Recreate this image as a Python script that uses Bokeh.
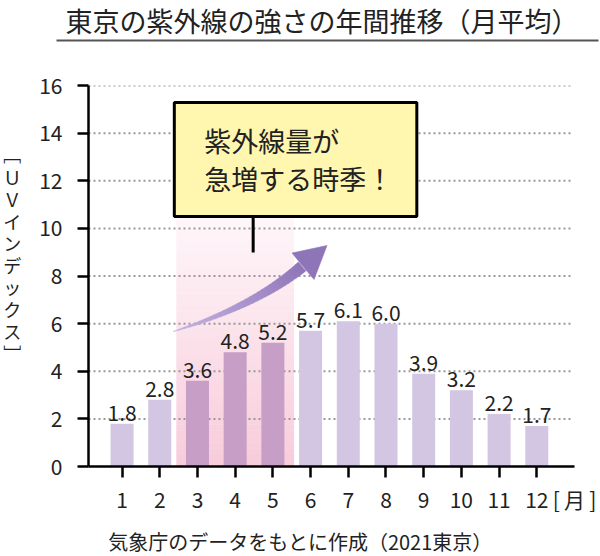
from bokeh.plotting import figure
from bokeh.models import Range1d, FixedTicker, Label
from bokeh.layouts import column, row
from bokeh.core.properties import value
from bokeh.embed import file_html
from bokeh.resources import INLINE

# ---- data ----
months = [1, 2, 3, 4, 5, 6, 7, 8, 9, 10, 11, 12]
uv = [1.8, 2.8, 3.6, 4.8, 5.2, 5.7, 6.1, 6.0, 3.9, 3.2, 2.2, 1.7]
highlight = [3, 4, 5]
month_labels = [str(m) for m in months]
y_ticks = [0, 2, 4, 6, 8, 10, 12, 14, 16]
title_text = "東京の紫外線の強さの年間推移（月平均）"
source_text = "気象庁のデータをもとに作成（2021東京）"
y_label_chars = ["﹇", "Ｕ", "Ｖ", "イ", "ン", "デ", "ッ", "ク", "ス", "﹈"]
unit_text = "[\u2009月\u2009]"
callout_lines = ["紫外線量が", "急増する時季！"]

FONT = "Noto Sans CJK JP"
TXT = "#222222"

# ---- page layout ----
W = 600
TOP_H = 45          # title strip
BOT_H = 36          # source strip
MAIN_H = 556 - TOP_H - BOT_H
FL, FR, FT, FB = 87, 574, 85, 466   # main frame in page pixels
X0, X1 = 0.11, 13.0
Y0, Y1 = 0, 16
UNIT_POS = 13


def dx(px):
    return X0 + (px - FL) * (X1 - X0) / (FR - FL)


def dy(py):
    return Y0 + (FB - py) * (Y1 - Y0) / (FB - FT)


def no_align(f):
    try:
        f.frame_align = False
        return True
    except Exception:
        return False


def strip(h):
    f = figure(width=W, height=h, output_backend="svg", toolbar_location=None,
               x_range=Range1d(0, W), y_range=Range1d(h, 0),
               x_axis_location=None, y_axis_location=None,
               min_border=0, min_border_left=0, min_border_right=0,
               min_border_top=0, min_border_bottom=0)
    f.outline_line_color = None
    f.xgrid.visible = False
    f.ygrid.visible = False
    f.border_fill_color = "white"
    f.background_fill_color = "white"
    return f


# ---- title strip ----
top_fig = strip(TOP_H)
top_fig.text(x=[65], y=[20], text=[title_text], text_align="left",
             text_baseline="middle", text_font=value(FONT),
             text_font_size="27px", text_color=TXT)
top_fig.segment(x0=[56], x1=[598], y0=[40], y1=[40], line_color="#555555",
                line_width=2)

# ---- main chart ----
p = figure(width=W, height=MAIN_H, output_backend="svg", toolbar_location=None,
           x_range=Range1d(X0, X1), y_range=Range1d(Y0, Y1),
           min_border_left=FL, min_border_right=W - FR,
           min_border_top=FT - TOP_H, min_border_bottom=TOP_H + MAIN_H - FB)
p.outline_line_color = None
p.xgrid.visible = False
p.ygrid.visible = False
p.background_fill_color = "white"
p.border_fill_color = "white"

for ax in (p.xaxis[0], p.yaxis[0]):
    ax.axis_line_width = 2.5
    ax.axis_line_color = "black"
    ax.major_tick_line_width = 2.5
    ax.major_tick_line_color = "black"
    ax.major_tick_in = 0
    ax.major_label_text_font = FONT
    ax.major_label_text_font_size = "21px"
    ax.major_label_text_color = TXT

# x axis: tick marks as minor ticks, labels (incl. unit) as major ticks
xa = p.xaxis[0]
xa.ticker = FixedTicker(ticks=months + [UNIT_POS], minor_ticks=months)
overrides = {m: s for m, s in zip(months, month_labels)}
overrides[UNIT_POS] = unit_text
xa.major_label_overrides = overrides
xa.major_tick_out = 0
xa.major_tick_line_color = None
xa.minor_tick_out = 11
xa.minor_tick_in = 0
xa.minor_tick_line_width = 2.5
xa.minor_tick_line_color = "black"
xa.major_label_standoff = 6

ya = p.yaxis[0]
ya.ticker = FixedTicker(ticks=y_ticks)
ya.major_tick_out = 11
ya.minor_tick_line_color = None
ya.major_label_standoff = 15
ya.axis_label = "\n".join(y_label_chars + ["\u3000", "\u3000"])
ya.axis_label_orientation = "horizontal"
ya.axis_label_text_font = FONT
ya.axis_label_text_font_size = "18px"
ya.axis_label_text_font_style = "normal"
ya.axis_label_text_line_height = 0.85
ya.axis_label_text_color = TXT
ya.axis_label_standoff = 15

# highlight band with vertical gradient
band_left, band_right = dx(175), dx(293)
band_top = 10.5
N = 42
bot = (248, 203, 218)
top = (254, 247, 250)
for i in range(N):
    t0 = i / N
    t1 = (i + 1) / N
    t = (t0 + t1) / 2
    c = tuple(int(round(bot[k] * (1 - t) + top[k] * t)) for k in range(3))
    col = "#%02x%02x%02x" % c
    p.quad(left=band_left, right=band_right, bottom=band_top * t0,
           top=band_top * t1 + 0.02, fill_color=col, line_color=None)

# dotted grid lines
grid_y = [g for g in y_ticks if g > 0]
gx1 = dx(573)
p.segment(x0=[X0] * len(grid_y), x1=[gx1] * len(grid_y), y0=grid_y, y1=grid_y,
          line_color="#999999", line_width=2, line_dash="2 3")

# bars
bar_colors = ["#c69ec6" if m in highlight else "#d3c6e2" for m in months]
p.vbar(x=months, top=uv, width=0.61, fill_color=bar_colors, line_color=None)

# bar value labels
p.text(x=months, y=uv, text=[f"{v:.1f}" for v in uv], text_align="center",
       text_baseline="alphabetic", y_offset=-11, text_font=value(FONT),
       text_font_size="21px", text_color=TXT)

# curved arrow (decorative)
P0 = (172.0, 331.0)
C = (255.0, 305.0)
P2 = (301.0, 266.0)


def bez(t):
    x = (1 - t) ** 2 * P0[0] + 2 * (1 - t) * t * C[0] + t ** 2 * P2[0]
    y = (1 - t) ** 2 * P0[1] + 2 * (1 - t) * t * C[1] + t ** 2 * P2[1]
    return x, y


def tang(t):
    x = 2 * (1 - t) * (C[0] - P0[0]) + 2 * t * (P2[0] - C[0])
    y = 2 * (1 - t) * (C[1] - P0[1]) + 2 * t * (P2[1] - C[1])
    L = (x * x + y * y) ** 0.5
    return x / L, y / L


def edge(t):
    x, y = bez(t)
    tx, ty = tang(t)
    nx, ny = -ty, tx
    hw = 5.8 * (t ** 0.8)
    return (x + nx * hw, y + ny * hw), (x - nx * hw, y - ny * hw)


c_tail = (196, 178, 224)
c_head = (142, 117, 184)
M = 30
xs, ys, cols = [], [], []
for i in range(M):
    t0, t1 = i / M, (i + 1) / M + 0.004
    a0, b0 = edge(t0)
    a1, b1 = edge(min(t1, 1.0))
    pts = [a0, a1, b1, b0]
    xs.append([dx(q[0]) for q in pts])
    ys.append([dy(q[1]) for q in pts])
    tm = (t0 + t1) / 2
    c = tuple(int(round(c_tail[k] * (1 - tm) + c_head[k] * tm)) for k in range(3))
    cols.append("#%02x%02x%02x" % c)
p.patches(xs, ys, fill_color=cols, line_color=cols, line_width=0.6)
head = [(291.0, 252.5), (326.0, 245.0), (313.0, 279.0), (302.0, 266.0)]
p.patch([dx(q[0]) for q in head], [dy(q[1]) for q in head],
        fill_color="#8e75b8", line_color="#8e75b8", line_width=0.6)

# callout box
p.quad(left=dx(173), right=dx(416), top=dy(102), bottom=dy(216),
       fill_color="#fff6b0", line_color="black", line_width=3)
p.segment(x0=dx(252), x1=dx(252), y0=dy(216), y1=dy(252),
          line_color="black", line_width=3)
for k, line in enumerate(callout_lines):
    p.add_layout(Label(x=dx(203), y=dy(140 + 38 * k), text=line,
                       text_align="left", text_baseline="middle",
                       text_font=FONT, text_font_size="27px", text_color=TXT))

# ---- source strip ----
bot_fig = strip(BOT_H)
bot_fig.text(x=[300], y=[541 - (TOP_H + MAIN_H)], text=[source_text],
             text_align="center", text_baseline="middle",
             text_font=value(FONT), text_font_size="20px", text_color=TXT)

ok = all([no_align(top_fig), no_align(p), no_align(bot_fig)])
if ok:
    layout = column(top_fig, p, bot_fig, spacing=0)
else:
    layout = column(row(top_fig), p, row(bot_fig), spacing=0)
open("out.html", "w").write(file_html(layout, INLINE))
